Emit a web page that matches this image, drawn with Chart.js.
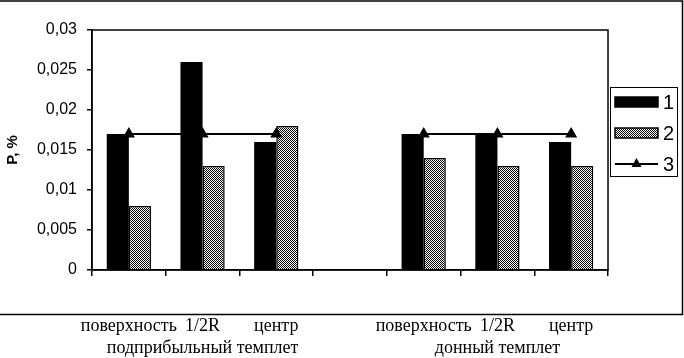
<!DOCTYPE html>
<html>
<head>
<meta charset="utf-8">
<script src="https://cdn.jsdelivr.net/npm/chart.js@4/dist/chart.umd.min.js"></script>
<style>
  html, body { margin: 0; padding: 0; background: #fff; }
  #wrap { width: 684px; height: 358px; }
</style>
</head>
<body>
<div id="wrap"><canvas id="grafico" width="684" height="358"></canvas></div>
<script>
// datos
var categorias = ['поверхность', '1/2R', 'центр', '', 'поверхность', '1/2R', 'центр'];
var grupos = ['', 'подприбыльный темплет', '', '', '', 'донный темплет', ''];
var serie1 = [0.017, 0.026, 0.016, null, 0.017, 0.017, 0.016];
var serie2 = [0.008, 0.013, 0.018, null, 0.014, 0.013, 0.013];
var serie3 = [0.017, 0.017, 0.017, null, 0.017, 0.017, 0.017];
var nombres = ['1', '2', '3'];

// trama gris punteada para la serie 2
function crearTrama() {
    var c = document.createElement('canvas');
    c.width = 2; c.height = 2;
    var g = c.getContext('2d');
    g.fillStyle = '#fff';
    g.fillRect(0, 0, 2, 2);
    g.fillStyle = '#000';
    g.fillRect(0, 0, 1, 1);
    g.fillRect(1, 1, 1, 1);
    return g.createPattern(c, 'repeat');
}
var trama = crearTrama();

// marco exterior, borde del área y leyenda
var marcos = {
    id: 'marcos',
    afterDraw: function(chart) {
        var ctx = chart.ctx;
        var a = chart.chartArea;
        ctx.save();
        ctx.strokeStyle = '#000';
        ctx.lineWidth = 1.5;
        // borde del área de trazado
        ctx.strokeRect(a.left, a.top, a.right - a.left, a.bottom - a.top);
        // marco exterior (sin lado izquierdo)
        ctx.beginPath();
        ctx.moveTo(0, 1); ctx.lineTo(682.5, 1);
        ctx.lineTo(682.5, 314.5); ctx.lineTo(0, 314.5);
        ctx.stroke();

        // leyenda
        var lx = a.right + 2, ly = a.top + 57, lw = 67, lh = 89;
        ctx.lineWidth = 1;
        ctx.strokeRect(lx + 0.5, ly + 0.5, lw, lh);
        ctx.font = '20px Arial';
        ctx.textBaseline = 'middle';
        ctx.fillStyle = '#000';
        chart.data.datasets.forEach(function(ds, i) {
            var cy = ly + 15 + i * 31;
            var x0 = lx + 5, x1 = lx + 48;
            if (ds.type === 'line') {
                ctx.lineWidth = 2;
                ctx.beginPath();
                ctx.moveTo(x0, cy); ctx.lineTo(x1, cy);
                ctx.stroke();
                ctx.beginPath();
                var mx = (x0 + x1) / 2;
                ctx.moveTo(mx, cy - 6); ctx.lineTo(mx + 5, cy + 3); ctx.lineTo(mx - 5, cy + 3);
                ctx.closePath();
                ctx.fill();
            } else {
                ctx.fillStyle = ds.backgroundColor;
                ctx.fillRect(x0, cy - 5, x1 - x0, 10);
                ctx.lineWidth = 1.5;
                ctx.strokeRect(x0, cy - 5, x1 - x0, 10);
                ctx.fillStyle = '#000';
            }
            ctx.fillText(ds.label, lx + 53, cy + 1);
        });
        ctx.restore();
    }
};

var ctx = document.getElementById('grafico').getContext('2d');
var grafico = new Chart(ctx, {
    data: {
        labels: categorias.map(function(c, i) { return grupos[i] ? [c, grupos[i]] : c; }),
        datasets: [{
            type: 'bar',
            label: nombres[0],
            data: serie1,
            backgroundColor: '#000',
            borderWidth: 0,
            order: 1
        }, {
            type: 'bar',
            label: nombres[1],
            data: serie2,
            backgroundColor: trama,
            borderColor: '#000',
            borderWidth: 1.5,
            order: 1
        }, {
            type: 'line',
            label: nombres[2],
            data: serie3,
            borderColor: '#000',
            backgroundColor: '#000',
            borderWidth: 2,
            pointStyle: 'triangle',
            pointRadius: 5,
            spanGaps: false,
            order: 0
        }]
    },
    options: {
        responsive: false,
        animation: false,
        layout: { padding: { top: 30, right: 76, bottom: 0, left: 0 } },
        datasets: {
            bar: { categoryPercentage: 0.6, barPercentage: 1.0 }
        },
        plugins: {
            legend: { display: false },
            tooltip: { enabled: false }
        },
        scales: {
            x: {
                afterFit: function(s) { s.height = 88; },
                grid: { display: true, offset: true, drawOnChartArea: false, tickLength: 6, color: '#000', lineWidth: 1.5 },
                border: { color: '#000', width: 1.5 },
                ticks: {
                    color: '#000',
                    font: { family: 'Liberation Serif', size: 18, lineHeight: 1.25 },
                    padding: 39,
                    maxRotation: 0,
                    autoSkip: false
                }
            },
            y: {
                min: 0,
                max: 0.03,
                afterFit: function(s) { s.width = 92; },
                grid: { display: true, drawOnChartArea: false, tickLength: 5, color: '#000', lineWidth: 1.5 },
                border: { color: '#000', width: 1.5 },
                ticks: {
                    stepSize: 0.005,
                    color: '#000',
                    padding: 10,
                    font: { family: 'Arial', size: 16 },
                    callback: function(v) { return String(Number(v.toFixed(3))).replace('.', ','); }
                },
                title: {
                    display: true,
                    text: 'P, %',
                    color: '#000',
                    font: { family: 'Arial', size: 15, weight: 'bold' }
                }
            }
        }
    },
    plugins: [marcos]
});
</script>
</body>
</html>
